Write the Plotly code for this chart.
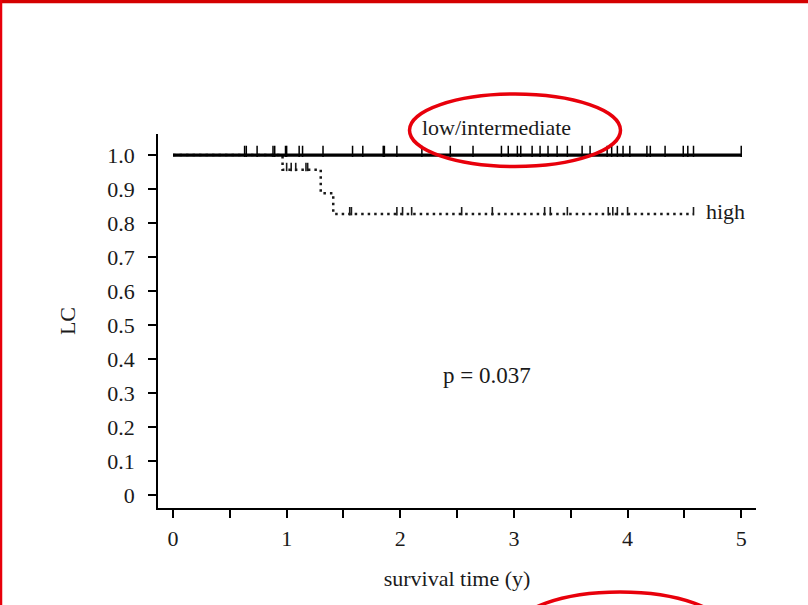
import plotly.graph_objects as go

# Kaplan-Meier local control by risk group
low_times = [0.0, 5.0]
low_surv = [1.0, 1.0]
low_censor = [0.63, 0.645, 0.74, 0.88, 0.895, 0.99, 1.0, 1.11, 1.14, 1.32, 1.58,
              1.67, 1.85, 1.86, 1.97, 2.19, 2.44, 2.64, 2.89, 2.95, 3.03, 3.06,
              3.16, 3.23, 3.30, 3.38, 3.47, 3.60, 3.67, 3.82, 3.86, 3.91, 3.96,
              4.02, 4.17, 4.20, 4.33, 4.49, 4.53, 4.58, 5.0]

high_times = [0.0, 0.964, 1.30, 1.41, 4.58]
high_surv = [1.0, 0.957, 0.888, 0.827, 0.827]
high_censor = [1.00, 1.04, 1.08, 1.17, 1.185, 1.555, 1.57, 1.97, 2.02, 2.10,
               2.54, 2.81, 3.27, 3.32, 3.47, 3.83, 3.87, 3.91, 4.00, 4.58]

x_ticks = [0, 0.5, 1, 1.5, 2, 2.5, 3, 3.5, 4, 4.5, 5]
x_labels = ["0", "", "1", "", "2", "", "3", "", "4", "", "5"]
y_ticks = [0, 0.1, 0.2, 0.3, 0.4, 0.5, 0.6, 0.7, 0.8, 0.9, 1.0]
y_labels = ["0", "0.1", "0.2", "0.3", "0.4", "0.5", "0.6", "0.7", "0.8", "0.9", "1.0"]

p_text = "p = 0.037"

FONT = "Liberation Serif"
FS = 22
INK = "#1a1a1a"
RED = "#e8000b"

# plot-area geometry (pixels) used to place decorations outside the axes
W, H = 808, 605
L, R, T, B = 158, 52, 134, 97
PW, PH = W - L - R, H - T - B


def px_x(px):
    return (px - L) / PW


def px_y(py):
    return (H - B - py) / PH


def step_value(times, surv, t):
    val = surv[0]
    for tt, s in zip(times, surv):
        if tt <= t:
            val = s
    return val


# censor ticks sit just above the curve
def censor_y(times, surv, pts, lift):
    return [step_value(times, surv, t) + lift for t in pts]


fig = go.Figure()

fig.add_trace(go.Scatter(
    x=high_times, y=high_surv, mode="lines", line_shape="hv",
    line=dict(color=INK, width=2.5, dash="2.5px,4px"), hoverinfo="skip"))
fig.add_trace(go.Scatter(
    x=high_censor, y=censor_y(high_times, high_surv, high_censor, 0.008),
    mode="markers", marker=dict(symbol="line-ns", size=6,
                                line=dict(color=INK, width=1.6)),
    hoverinfo="skip"))

fig.add_trace(go.Scatter(
    x=low_times, y=low_surv, mode="lines",
    line=dict(color="black", width=3.2), hoverinfo="skip"))
fig.add_trace(go.Scatter(
    x=low_censor, y=censor_y(low_times, low_surv, low_censor, 0.011),
    mode="markers", marker=dict(symbol="line-ns", size=8,
                                line=dict(color="black", width=1.5)),
    hoverinfo="skip"))

fig.add_annotation(x=2.85, y=1.0, yshift=28, text="low/intermediate",
                   showarrow=False, font=dict(family=FONT, size=FS, color=INK))
fig.add_annotation(x=4.67, y=high_surv[-1], xanchor="left", yshift=2, text="high",
                   showarrow=False, font=dict(family=FONT, size=FS, color=INK))
fig.add_annotation(x=2.76, y=0.353, text=p_text, showarrow=False,
                   font=dict(family=FONT, size=FS + 1, color=INK))

# red highlight ellipses and page border
fig.add_shape(type="circle", xref="paper", yref="paper",
              x0=px_x(409.5), x1=px_x(620.5), y0=px_y(94), y1=px_y(166.5),
              line=dict(color=RED, width=3.5))
fig.add_shape(type="circle", xref="paper", yref="paper",
              x0=px_x(515), x1=px_x(725), y0=px_y(592), y1=px_y(668),
              line=dict(color=RED, width=3.5))
fig.add_shape(type="line", xref="paper", yref="paper",
              x0=px_x(0), x1=px_x(W), y0=px_y(1.5), y1=px_y(1.5),
              line=dict(color="#d40000", width=3.5))
fig.add_shape(type="line", xref="paper", yref="paper",
              x0=px_x(1), x1=px_x(1), y0=px_y(0), y1=px_y(H),
              line=dict(color=RED, width=2.5))

axis_common = dict(showline=True, linecolor="black", linewidth=1.5,
                   ticks="outside", ticklen=8, tickwidth=1.5, tickcolor="black",
                   showgrid=False, zeroline=False, mirror=False,
                   tickfont=dict(family=FONT, size=FS, color=INK))

fig.update_layout(
    width=W, height=H, autosize=False,
    margin=dict(l=L, r=R, t=T, b=B, pad=0),
    paper_bgcolor="white", plot_bgcolor="white",
    showlegend=False,
    xaxis=dict(range=[-0.132, 5.13], tickmode="array", tickvals=x_ticks,
               ticktext=x_labels, ticklabelstandoff=2,
               title=dict(text="survival time (y)", standoff=20,
                          font=dict(family=FONT, size=FS, color=INK)),
               **axis_common),
    yaxis=dict(range=[-0.038, 1.062], tickmode="array", tickvals=y_ticks,
               ticktext=y_labels, ticklabelstandoff=9,
               title=dict(text="LC", standoff=26,
                          font=dict(family=FONT, size=FS, color=INK)),
               **axis_common),
)

fig.write_html("out.html")
